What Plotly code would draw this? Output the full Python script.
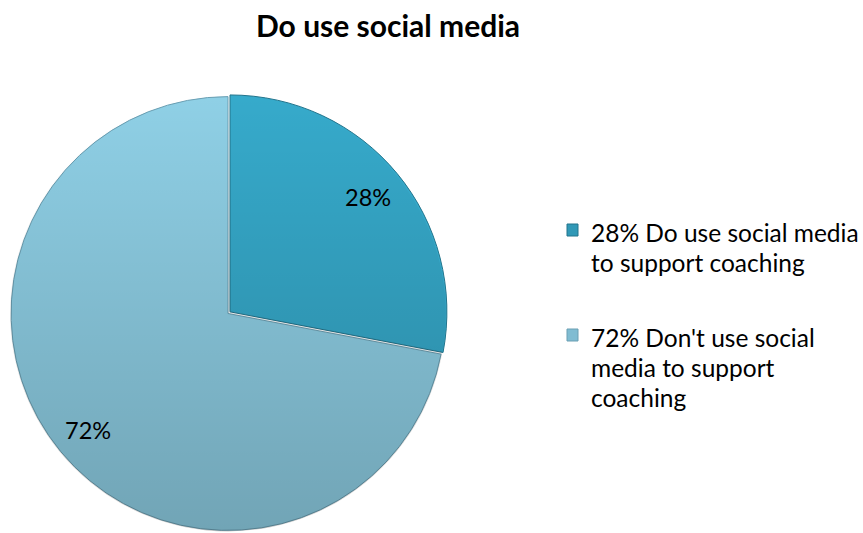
import base64
import math
import plotly.graph_objects as go

# Survey result: share of coaches using social media
categories = ["Do use social media to support coaching",
              "Don't use social media to support coaching"]
values = [28, 72]
slice_labels = ["28%", "72%"]
legend_labels = ["28% Do use social media<br>to support coaching",
                 "72% Don't use social<br>media to support<br>coaching"]
colors = ["#36AACB", "#8FD0E6"]
swatch_colors = ["#3199B7", "#80BCD2"]
edge_colors = ["#22748C", "#6A9FB3"]
title_text = "Do use social media"

W, H = 863, 533
FONT = "Lato, 'Open Sans', sans-serif"

# pie geometry in pixels
cx, cy = 228.0, 313.5
half = 219.5
pulls = [0.012, 0.0]
r = 2 * half / (2 + 2 * max(pulls))


def px_to_paper(x, y):
    return x / W, 1 - y / H


fig = go.Figure()
fig.add_trace(go.Pie(
    labels=categories,
    values=values,
    sort=False,
    direction="clockwise",
    rotation=0,
    pull=pulls,
    marker=dict(colors=colors, line=dict(color=edge_colors, width=1)),
    textinfo="none",
    hoverinfo="label+percent",
    showlegend=False,
    domain=dict(x=[(cx - half) / W, (cx + half) / W],
                y=[1 - (cy + half) / H, 1 - (cy - half) / H]),
))

# vertical shading over the pie disc (lighter top, darker bottom)
size = int(2 * half)
svg = (
    f'<svg xmlns="http://www.w3.org/2000/svg" width="{size}" height="{size}" '
    f'viewBox="0 0 {size} {size}">'
    '<defs><linearGradient id="g" x1="0" y1="0" x2="0" y2="1">'
    '<stop offset="0" stop-color="#000" stop-opacity="0"/>'
    '<stop offset="1" stop-color="#000" stop-opacity="0.21"/>'
    '</linearGradient></defs>'
    f'<circle cx="{size / 2}" cy="{size / 2}" r="{r + 1}" fill="url(#g)"/>'
    '</svg>'
)
shade_src = "data:image/svg+xml;base64," + base64.b64encode(svg.encode()).decode()
images = [dict(source=shade_src, xref="paper", yref="paper",
               x=(cx - half) / W, y=1 - (cy - half) / H,
               sizex=2 * half / W, sizey=2 * half / H,
               xanchor="left", yanchor="top", sizing="stretch",
               layer="above")]

annotations = []
# percentage labels placed along each slice's bisector
total = sum(values)
start = 0.0
for v, lab in zip(values, slice_labels):
    span = 360.0 * v / total
    mid = math.radians(start + span / 2)
    start += span
    lx = cx + 0.84 * r * math.sin(mid)
    ly = cy - 0.84 * r * math.cos(mid)
    px, py = px_to_paper(lx, ly)
    annotations.append(dict(x=px, y=py, xref="paper", yref="paper",
                            text=lab, showarrow=False,
                            font=dict(family=FONT, size=23.5, color="#000000"),
                            xanchor="center", yanchor="middle"))

# legend drawn as swatches plus text lines
shapes = []
legend_x = 567
text_x = 589
line_h = 30
entry_tops = [233, 338]
for lab, col, edge, y0 in zip(legend_labels, swatch_colors, edge_colors, entry_tops):
    shapes.append(dict(type="rect", xref="paper", yref="paper",
                       x0=legend_x / W, x1=(legend_x + 11) / W,
                       y0=1 - (y0 - 9) / H, y1=1 - (y0 + 3) / H,
                       fillcolor=col, line=dict(color=edge, width=1)))
    for i, line in enumerate(lab.split("<br>")):
        tx, ty = px_to_paper(text_x, y0 - 1 + i * line_h)
        annotations.append(dict(x=tx, y=ty, xref="paper", yref="paper",
                                text=line, showarrow=False,
                                font=dict(family=FONT, size=24.5, color="#000000"),
                                xanchor="left", yanchor="middle"))

# chart title
tx, ty = px_to_paper(388, 25)
annotations.append(dict(x=tx, y=ty, xref="paper", yref="paper",
                        text="<b>" + title_text + "</b>", showarrow=False,
                        font=dict(family=FONT, size=30, color="#000000"),
                        xanchor="center", yanchor="middle"))

fig.update_layout(
    width=W, height=H,
    margin=dict(l=0, r=0, t=0, b=0),
    paper_bgcolor="#FFFFFF",
    plot_bgcolor="#FFFFFF",
    annotations=annotations,
    shapes=shapes,
    images=images,
)

fig.write_html("out.html")
